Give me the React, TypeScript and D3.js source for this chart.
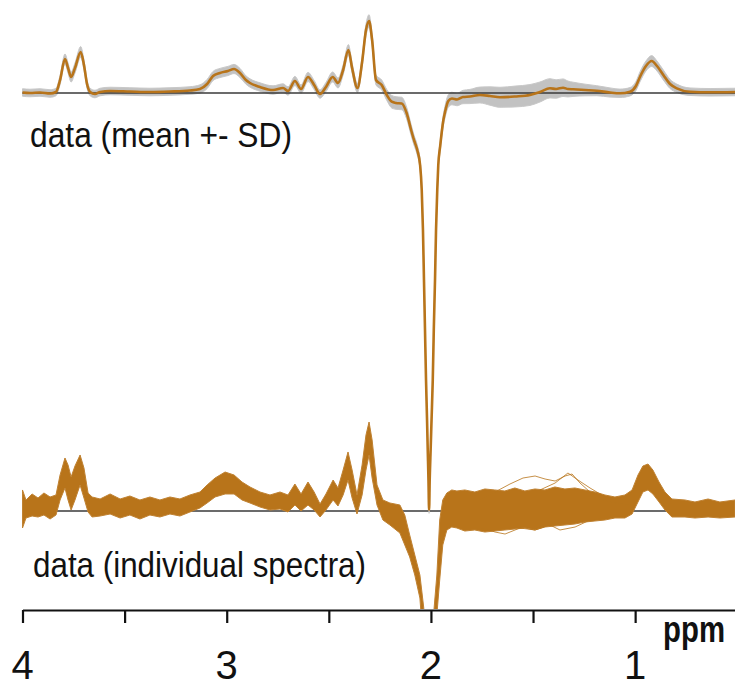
import React, { useEffect, useRef } from "react";
import * as d3 from "d3";

// mean spectrum (ppm, a.u., dip at 2.0 ppm = -100) with its SD
const ppmMean = [4.0, 3.963, 3.914, 3.865, 3.836, 3.816, 3.792, 3.777, 3.762, 3.743, 3.715, 3.699, 3.684, 3.669, 3.645, 3.62, 3.571, 3.474, 3.376, 3.278, 3.18, 3.131, 3.096, 3.067, 3.033, 2.994, 2.964, 2.935, 2.906, 2.886, 2.837, 2.773, 2.724, 2.7, 2.666, 2.636, 2.602, 2.572, 2.543, 2.514, 2.481, 2.455, 2.43, 2.404, 2.386, 2.36, 2.337, 2.318, 2.303, 2.288, 2.269, 2.241, 2.216, 2.192, 2.171, 2.143, 2.119, 2.097, 2.083, 2.067, 2.053, 2.045, 2.039, 2.034, 2.029, 2.024, 2.019, 2.016, 2.012, 2.009, 2.006, 2.001, 1.997, 1.991, 1.986, 1.98, 1.975, 1.969, 1.964, 1.955, 1.939, 1.931, 1.915, 1.897, 1.872, 1.843, 1.809, 1.76, 1.711, 1.662, 1.588, 1.515, 1.466, 1.417, 1.387, 1.353, 1.329, 1.304, 1.245, 1.188, 1.123, 1.074, 1.025, 0.996, 0.976, 0.947, 0.919, 0.893, 0.862, 0.829, 0.796, 0.731, 0.633, 0.511];
const meanVals = [0.12, 0, 0.12, -0.12, 0.24, 3.12, 8.15, 6.0, 3.84, 6.0, 9.83, 6.71, 2.16, 0.24, -0.24, 0.24, 0.48, 0.36, 0.24, 0.36, 0.6, 0.96, 2.16, 4.08, 4.8, 5.28, 5.76, 4.8, 3.12, 2.4, 1.44, 0.72, 1.2, 0.48, 2.88, 0.96, 3.84, 1.92, -0.24, 1.44, 3.84, 2.4, 5.52, 10.31, 6.0, 1.2, 7.43, 15.11, 17.27, 12.71, 3.12, 1.92, -0.48, -2.09, -2.4, -2.52, -4.8, -8.87, -11.27, -13.67, -17.27, -23.26, -32.85, -44.84, -56.83, -68.82, -78.42, -84.89, -92.81, -100, -92.81, -84.89, -78.42, -68.82, -56.83, -44.84, -32.85, -23.26, -17.27, -12.88, -6.47, -4.56, -1.92, -1.32, -1.56, -0.96, -0.84, -0.48, -0.72, -1.03, -0.84, -0.48, 0.24, 1.13, 0.96, 1.27, 0.96, 0.89, 0.72, 0.55, 0.12, -0.07, 0.31, 1.68, 3.91, 6.47, 7.67, 6.47, 4.32, 2.16, 1.13, 0.31, 0.17, 0.24];
const sdVals = [0.9, 0.9, 0.9, 0.9, 0.9, 1.1, 1.2, 1.2, 1.2, 1.2, 1.3, 1.2, 1.0, 0.9, 0.9, 0.9, 0.9, 0.9, 0.9, 0.9, 0.9, 1.0, 1.1, 1.1, 1.1, 1.1, 1.1, 1.1, 1.0, 1.0, 1.0, 1.0, 1.0, 1.0, 1.1, 1.0, 1.1, 1.1, 1.0, 1.1, 1.2, 1.2, 1.2, 1.3, 1.2, 1.1, 1.2, 1.4, 1.5, 1.4, 1.2, 1.2, 1.3, 1.5, 1.5, 1.5, 1.4, 1.3, 1.2, 1.2, 1.1, 1.0, 0.9, 0.8, 0.8, 0.8, 0.8, 0.8, 0.8, 0.8, 0.8, 0.8, 0.8, 0.8, 0.8, 0.8, 0.9, 1.0, 1.1, 1.2, 1.3, 1.4, 1.5, 1.5, 1.5, 1.6, 1.7, 1.9, 2.2, 2.4, 2.5, 2.5, 2.4, 2.3, 2.2, 2.1, 1.9, 1.7, 1.4, 1.2, 1.1, 1.0, 1.0, 1.1, 1.2, 1.2, 1.3, 1.2, 1.2, 1.1, 1.0, 0.9, 0.9, 0.9];

// individual spectra: envelope of all traces
const ppmIndiv = [4.0, 3.983, 3.953, 3.924, 3.895, 3.865, 3.836, 3.816, 3.792, 3.777, 3.762, 3.743, 3.718, 3.699, 3.679, 3.659, 3.62, 3.571, 3.522, 3.474, 3.425, 3.376, 3.327, 3.278, 3.229, 3.18, 3.131, 3.096, 3.057, 3.008, 2.964, 2.925, 2.886, 2.837, 2.788, 2.739, 2.7, 2.666, 2.636, 2.602, 2.572, 2.543, 2.514, 2.479, 2.455, 2.43, 2.406, 2.386, 2.362, 2.337, 2.318, 2.303, 2.288, 2.264, 2.235, 2.201, 2.152, 2.128, 2.104, 2.079, 2.054, 2.035, 2.02, 2.01, 2.0, 1.986, 1.971, 1.957, 1.942, 1.922, 1.898, 1.873, 1.834, 1.785, 1.736, 1.687, 1.638, 1.589, 1.54, 1.491, 1.442, 1.393, 1.344, 1.295, 1.246, 1.197, 1.148, 1.099, 1.05, 1.015, 0.986, 0.962, 0.937, 0.913, 0.883, 0.854, 0.82, 0.756, 0.707, 0.643, 0.585, 0.511];
const indivHi = [5.04, 2.64, 4.08, 3.12, 4.32, 3.36, 3.84, 8.63, 12.71, 11.03, 8.15, 10.79, 13.43, 10.31, 4.32, 3.36, 2.88, 4.08, 2.88, 3.6, 2.64, 3.36, 2.64, 3.36, 2.88, 3.84, 4.56, 6.24, 7.91, 9.35, 8.63, 6.95, 5.76, 4.56, 3.84, 4.56, 3.84, 6.47, 4.08, 6.95, 4.56, 1.68, 4.08, 7.43, 5.52, 9.83, 14.15, 9.83, 3.84, 11.03, 18.23, 21.34, 17.03, 6.24, 2.64, 1.92, 1.44, -0.96, -5.76, -10.55, -15.35, -23.26, -45.32, -98.08, -50.12, -24.22, -15.35, -2.16, 2.64, 4.32, 5.04, 4.8, 5.04, 4.56, 5.28, 5.04, 4.8, 5.52, 4.8, 5.28, 5.04, 5.76, 5.28, 5.52, 5.04, 4.56, 3.84, 3.36, 3.84, 5.04, 8.63, 10.79, 11.27, 9.83, 6.95, 4.56, 2.88, 2.64, 2.16, 2.88, 2.16, 2.64];
const indivLo = [-4.08, -1.68, -1.2, -1.44, -0.96, -1.92, -0.96, 2.64, 5.52, 2.64, 0.24, 2.64, 6.24, 3.12, -0.24, -1.44, -1.2, -0.72, -1.68, -0.96, -1.92, -0.96, -1.44, -0.72, -1.2, -0.24, 0.72, 1.92, 3.36, 4.08, 4.08, 2.64, 1.92, 0.96, 0.24, 0.48, -0.24, 1.44, 0, 1.44, 0.24, -1.44, 0.24, 2.64, 1.2, 3.84, 7.43, 3.12, -0.72, 3.84, 9.83, 13.43, 7.91, 1.44, -2.16, -3.36, -5.28, -8.15, -11.03, -15.35, -20.86, -33.33, -59.71, -101.68, -64.51, -35.73, -24.94, -16.55, -8.15, -4.56, -3.84, -4.08, -4.8, -4.56, -5.04, -4.8, -4.56, -4.32, -4.08, -4.56, -3.84, -3.6, -3.36, -3.12, -2.64, -2.4, -2.16, -1.68, -1.68, -0.72, 2.16, 4.56, 5.04, 4.08, 2.16, 0.24, -1.44, -1.44, -1.68, -1.44, -1.68, -1.44];

// a few single traces that stand out of the bundle (1.0 - 1.8 ppm)
const outlierPpm = [
  [1.76, 1.686, 1.613, 1.549, 1.49, 1.441, 1.392, 1.343, 1.309, 1.27, 1.221, 1.172, 1.098, 1.025],
  [1.76, 1.686, 1.637, 1.564, 1.49, 1.417, 1.368, 1.294, 1.221, 1.123],
  [1.466, 1.392, 1.329, 1.28, 1.221, 1.147],
];
const outlierVals = [
  [2.64, 4.56, 6.47, 7.91, 8.39, 7.67, 7.19, 8.39, 8.87, 6.71, 4.56, 2.88, 1.92, 1.44],
  [-3.84, -5.04, -5.52, -4.08, -4.56, -3.36, -4.56, -3.84, -2.16, -1.68],
  [5.04, 6.71, 9.11, 7.43, 5.52, 3.36],
];

const ppmTicks = [4, 3.5, 3, 2.5, 2, 1.5, 1];
const ppmLabels = [4, 3, 2, 1];

const ORANGE = "#b8741a";
const FONT = "'Liberation Sans', Arial, Helvetica, sans-serif";

function App() {
  const svgRef = useRef<SVGSVGElement>(null);

  useEffect(() => {
    const width = 735;
    const height = 679;
    const topBase = 93;
    const botBase = 511;
    const axisY = 610;

    const svg = d3.select(svgRef.current);
    svg.selectAll("*").remove();

    const x = d3.scaleLinear().domain([4, 0.511]).range([22.5, width]);
    const yTop = d3.scaleLinear().domain([0, 100]).range([topBase, topBase - 417]);
    const yBot = d3.scaleLinear().domain([0, 100]).range([botBase, botBase - 417]);

    svg.append("defs")
      .append("clipPath")
      .attr("id", "indiv-clip")
      .append("rect")
      .attr("x", 0)
      .attr("y", 0)
      .attr("width", width)
      .attr("height", axisY - 1);

    // ---- individual spectra (bottom) ----
    svg.append("line")
      .attr("x1", x(4)).attr("x2", width)
      .attr("y1", botBase).attr("y2", botBase)
      .attr("stroke", "#3a3a3a")
      .attr("stroke-width", 1.4);

    const gInd = svg.append("g").attr("clip-path", "url(#indiv-clip)");
    const indivIdx = d3.range(ppmIndiv.length);
    const band = d3.area<number>()
      .x(i => x(ppmIndiv[i]))
      .y0(i => yBot(indivLo[i]))
      .y1(i => yBot(indivHi[i]));
    gInd.append("path")
      .attr("d", band(indivIdx))
      .attr("fill", ORANGE)
      .attr("stroke", "#c08232")
      .attr("stroke-width", 1)
      .attr("stroke-linejoin", "round");

    outlierPpm.forEach((pp, k) => {
      const ln = d3.line<number>()
        .x(i => x(pp[i]))
        .y(i => yBot(outlierVals[k][i]));
      gInd.append("path")
        .attr("d", ln(d3.range(pp.length)))
        .attr("fill", "none")
        .attr("stroke", ORANGE)
        .attr("stroke-opacity", 0.8)
        .attr("stroke-width", 1);
    });

    // ---- mean +- SD (top) ----
    const meanIdx = d3.range(ppmMean.length);
    const sdArea = d3.area<number>()
      .x(i => x(ppmMean[i]))
      .y0(i => yTop(meanVals[i] - sdVals[i]))
      .y1(i => yTop(meanVals[i] + sdVals[i]))
      .curve(d3.curveMonotoneX);
    svg.append("path")
      .attr("d", sdArea(meanIdx))
      .attr("fill", "#c2c2c2")
      .attr("stroke", "#c8c8c8")
      .attr("stroke-width", 1);

    svg.append("line")
      .attr("x1", x(4)).attr("x2", width)
      .attr("y1", topBase).attr("y2", topBase)
      .attr("stroke", "#3a3a3a")
      .attr("stroke-width", 1.4);

    const meanLine = d3.line<number>()
      .x(i => x(ppmMean[i]))
      .y(i => yTop(meanVals[i]))
      .curve(d3.curveMonotoneX);
    svg.append("path")
      .attr("d", meanLine(meanIdx))
      .attr("fill", "none")
      .attr("stroke", ORANGE)
      .attr("stroke-width", 2.6)
      .attr("stroke-linejoin", "round");

    // ---- labels ----
    svg.append("text")
      .attr("x", 30)
      .attr("y", 147)
      .attr("font-family", FONT)
      .attr("font-size", 35)
      .attr("textLength", 262)
      .attr("lengthAdjust", "spacingAndGlyphs")
      .attr("fill", "#111")
      .text("data (mean +- SD)");

    svg.append("text")
      .attr("x", 33)
      .attr("y", 577)
      .attr("font-family", FONT)
      .attr("font-size", 35)
      .attr("textLength", 333)
      .attr("lengthAdjust", "spacingAndGlyphs")
      .attr("fill", "#111")
      .text("data (individual spectra)");

    // ---- ppm axis ----
    const axis = d3.axisBottom(x)
      .tickValues(ppmTicks)
      .tickSize(13)
      .tickSizeOuter(0)
      .tickFormat(() => "");
    const gAxis = svg.append("g")
      .attr("transform", `translate(0,${axisY})`)
      .call(axis);
    gAxis.select(".domain").attr("stroke", "#111").attr("stroke-width", 2.2);
    gAxis.selectAll(".tick line").attr("stroke", "#111").attr("stroke-width", 2.2);

    svg.selectAll(".ppm-label")
      .data(ppmLabels)
      .join("text")
      .attr("class", "ppm-label")
      .attr("x", d => x(d))
      .attr("y", 679)
      .attr("text-anchor", "middle")
      .attr("font-family", FONT)
      .attr("font-size", 40)
      .attr("fill", "#111")
      .text(d => d);

    svg.append("text")
      .attr("x", 663)
      .attr("y", 642)
      .attr("font-family", FONT)
      .attr("font-weight", "bold")
      .attr("font-size", 36)
      .attr("textLength", 62)
      .attr("lengthAdjust", "spacingAndGlyphs")
      .attr("fill", "#111")
      .text("ppm");
  }, []);

  return (
    <svg
      ref={svgRef}
      width={735}
      height={679}
      style={{ position: "absolute", left: 0, top: 0, background: "#fff" }}
    />
  );
}

export default App;
